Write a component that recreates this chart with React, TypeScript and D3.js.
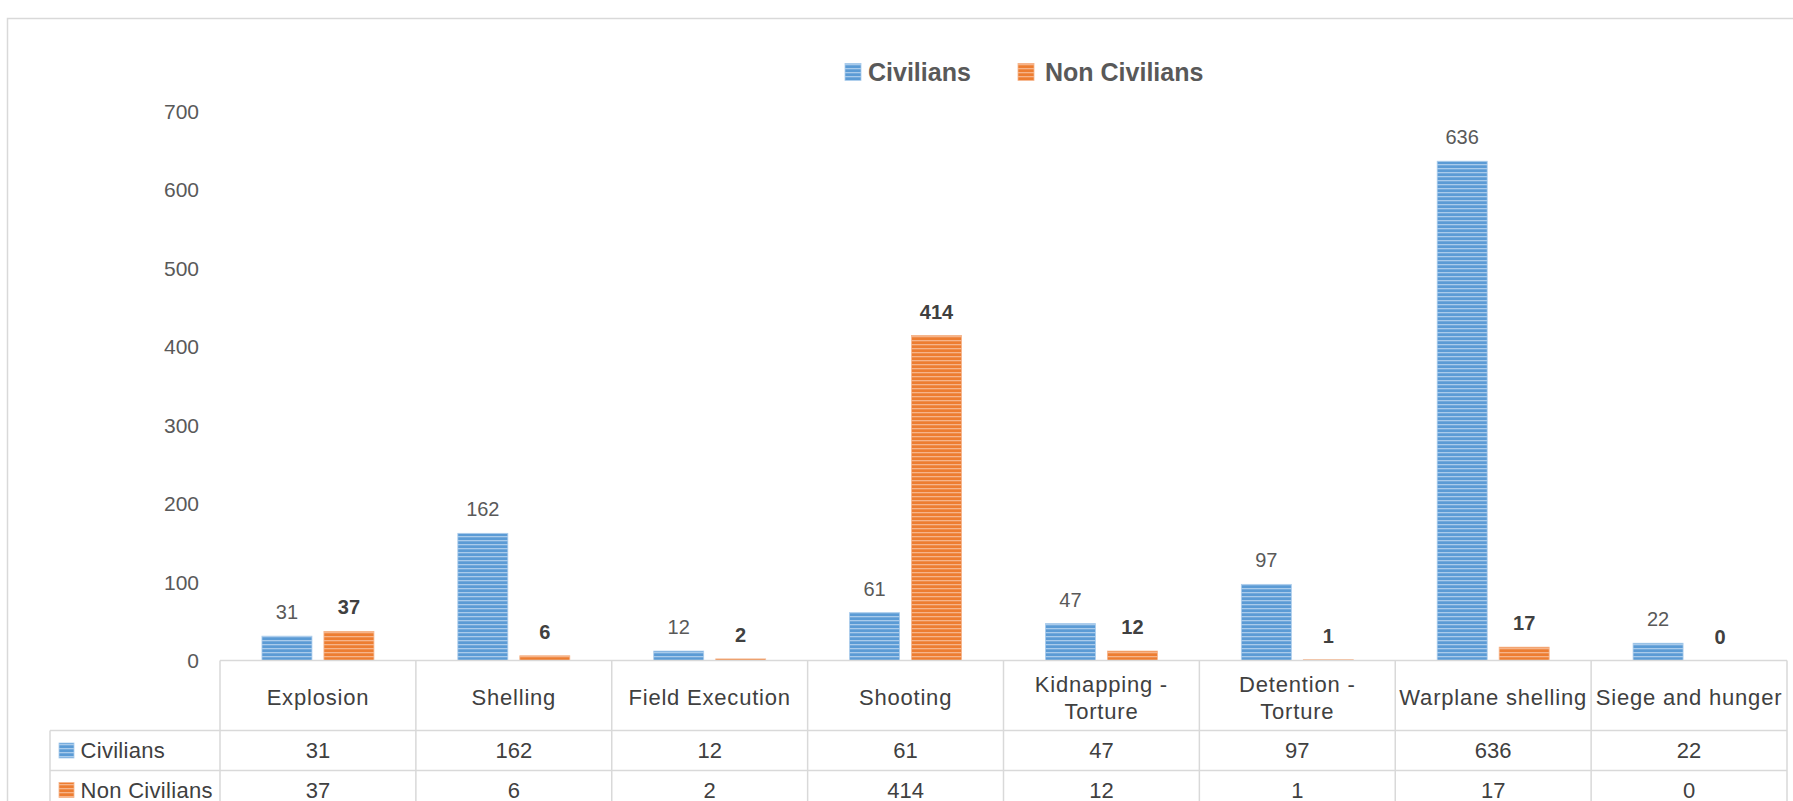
import React from "react";
import * as d3 from "d3";

const categories: string[][] = [
  ["Explosion"],
  ["Shelling"],
  ["Field Execution"],
  ["Shooting"],
  ["Kidnapping -", "Torture"],
  ["Detention -", "Torture"],
  ["Warplane shelling"],
  ["Siege and hunger"],
];
const seriesNames = ["Civilians", "Non Civilians"];
const civilians = [31, 162, 12, 61, 47, 97, 636, 22];
const nonCivilians = [37, 6, 2, 414, 12, 1, 17, 0];
const yTicks = [0, 100, 200, 300, 400, 500, 600, 700];

const W = 1793;
const H = 801;
const FONT = "'Liberation Sans', Arial, sans-serif";

export default function App() {
  const series = [civilians, nonCivilians];
  const keys = categories.map((c) => c.join(" "));
  const x = d3.scaleBand<string>().domain(keys).range([220, 1787]).paddingInner(0).paddingOuter(0);
  const xi = d3
    .scaleBand<string>()
    .domain(seriesNames)
    .range([0, x.bandwidth()])
    .paddingInner(0.1935)
    .paddingOuter(0.677);
  const y = d3.scaleLinear().domain([0, 700]).range([660.5, 111]);
  const base = ["#5B9BD5", "#ED7D31"];
  const light = ["#A9CBEB", "#F6B48A"];
  const patIds = ["patBlue", "patOrange"];
  const grid = "#D9D9D9";
  const tableTop = y(0);
  const row1 = 730.5;
  const row2 = 770.5;
  const row3 = 810.5;

  return (
    <svg
      width={W}
      height={H}
      style={{ position: "absolute", left: 0, top: 0, background: "#fff" }}
      fontFamily={FONT}
    >
      <defs>
        {patIds.map((id, i) => (
          <pattern key={id} id={id} width={8} height={4} patternUnits="userSpaceOnUse">
            <rect width={8} height={4} fill={base[i]} />
            <rect y={0} width={8} height={1.3} fill={light[i]} />
          </pattern>
        ))}
      </defs>
      <rect x={0} y={0} width={W} height={H} fill="#fff" />
      {/* chart border */}
      <rect x={7.5} y={18.5} width={W + 10} height={H + 10} fill="none" stroke="#D9D9D9" strokeWidth={1.5} />

      {/* legend */}
      <g>
        <rect x={845} y={63.5} width={16} height={17} fill={`url(#${patIds[0]})`} stroke={light[0]} strokeWidth={0.8} />
        <text x={868} y={72} dominantBaseline="central" fontSize={25} fontWeight="bold" fill="#595959">
          {seriesNames[0]}
        </text>
        <rect x={1018} y={63.5} width={16} height={17} fill={`url(#${patIds[1]})`} stroke={light[1]} strokeWidth={0.8} />
        <text x={1045} y={72} dominantBaseline="central" fontSize={25} fontWeight="bold" fill="#595959">
          {seriesNames[1]}
        </text>
      </g>

      {/* y axis labels */}
      {yTicks.map((t) => (
        <text key={t} x={199} y={y(t)} textAnchor="end" dominantBaseline="central" fontSize={21} fill="#595959">
          {t}
        </text>
      ))}

      {/* bars */}
      {keys.map((k, ci) =>
        series.map((vals, si) => {
          const v = vals[ci];
          const bx = (x(k) as number) + (xi(seriesNames[si]) as number);
          const bw = xi.bandwidth();
          const top = y(v);
          return (
            <g key={k + si}>
              {v > 0 && (
                <rect
                  x={bx}
                  y={top}
                  width={bw}
                  height={y(0) - top}
                  fill={`url(#${patIds[si]})`}
                  stroke={light[si]}
                  strokeWidth={0.8}
                />
              )}
              <text
                x={bx + bw / 2}
                y={top - 24}
                textAnchor="middle"
                dominantBaseline="central"
                fontSize={20}
                fontWeight={si === 1 ? "bold" : "normal"}
                fill={si === 1 ? "#404040" : "#595959"}
              >
                {v}
              </text>
            </g>
          );
        })
      )}

      {/* data table */}
      <g stroke={grid} strokeWidth={1.5}>
        <line x1={220} x2={1787} y1={tableTop} y2={tableTop} />
        <line x1={50} x2={1787} y1={row1} y2={row1} />
        <line x1={50} x2={1787} y1={row2} y2={row2} />
        <line x1={50} x2={1787} y1={row3} y2={row3} />
        <line x1={50} x2={50} y1={row1} y2={row3} />
        {keys.map((k) => (
          <line key={k} x1={x(k)} x2={x(k)} y1={tableTop} y2={row3} />
        ))}
        <line x1={1787} x2={1787} y1={tableTop} y2={row3} />
      </g>
      {categories.map((lines, ci) => {
        const cx = (x(keys[ci]) as number) + x.bandwidth() / 2;
        const mid = (tableTop + row1) / 2 + 2;
        return (
          <text
            key={ci}
            x={cx}
            textAnchor="middle"
            fontSize={22}
            letterSpacing={0.8}
            fill="#404040"
          >
            {lines.map((l, li) => (
              <tspan
                key={li}
                x={cx}
                y={mid + (li - (lines.length - 1) / 2) * 27}
                dominantBaseline="central"
              >
                {l}
              </tspan>
            ))}
          </text>
        );
      })}
      {series.map((vals, si) => {
        const ry = si === 0 ? (row1 + row2) / 2 : 790;
        return (
          <g key={si}>
            <rect x={59} y={ry - 7.5} width={15} height={15} fill={`url(#${patIds[si]})`} stroke={light[si]} strokeWidth={0.8} />
            <text x={80.5} y={ry} dominantBaseline="central" fontSize={22} letterSpacing={0.3} fill="#404040">
              {seriesNames[si]}
            </text>
            {vals.map((v, ci) => (
              <text
                key={ci}
                x={(x(keys[ci]) as number) + x.bandwidth() / 2}
                y={ry}
                textAnchor="middle"
                dominantBaseline="central"
                fontSize={22}
                fill="#404040"
              >
                {v}
              </text>
            ))}
          </g>
        );
      })}
    </svg>
  );
}
